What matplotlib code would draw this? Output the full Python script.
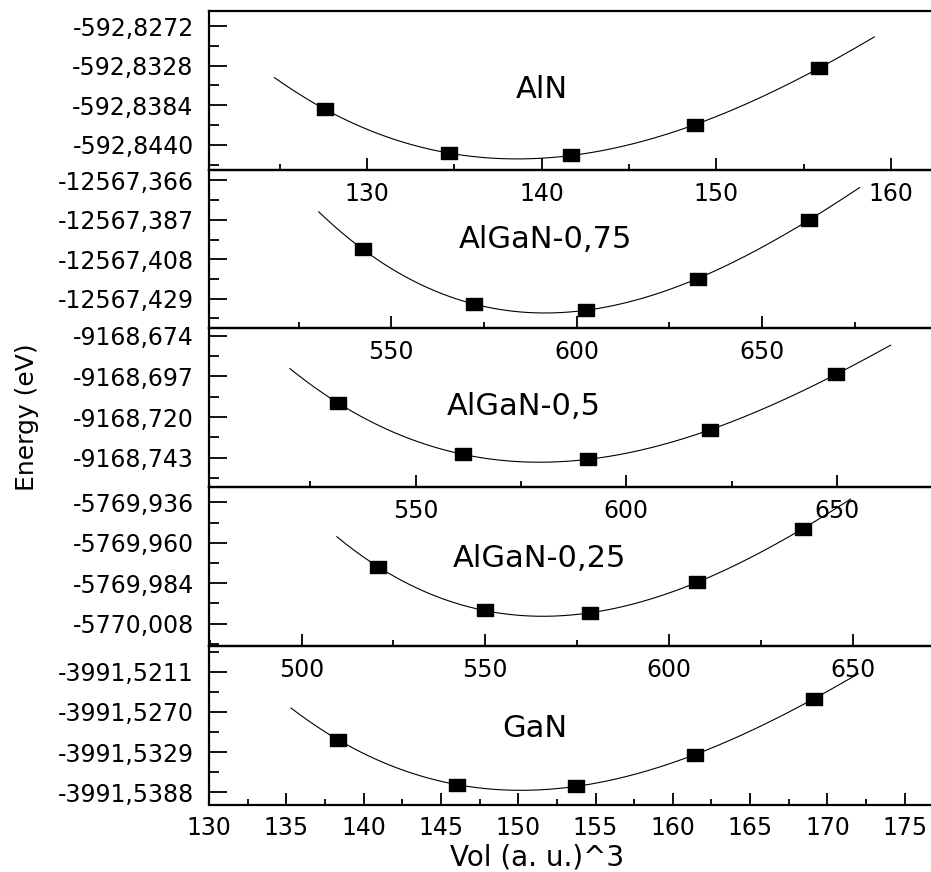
import numpy as np
import matplotlib
matplotlib.use('Agg')
import matplotlib.pyplot as plt
from matplotlib.path import Path
from matplotlib.ticker import FixedLocator, MultipleLocator, AutoMinorLocator, FuncFormatter

# Total energy vs cell volume for the AlGaN series (top to bottom)
names = ['AlN', 'AlGaN-0,75', 'AlGaN-0,5', 'AlGaN-0,25', 'GaN']

vol_aln = [127.6, 134.7, 141.7, 148.8, 155.9]
e_aln = [-592.83896, -592.84517, -592.84545, -592.84113, -592.83313]

vol_075 = [542.3, 572.4, 602.5, 632.7, 662.7]
e_075 = [-12567.4027, -12567.4320, -12567.4350, -12567.4183, -12567.3871]

vol_05 = [531.7, 561.2, 590.9, 619.8, 649.8]
e_05 = [-9168.7122, -9168.7411, -9168.7439, -9168.7273, -9168.6958]

vol_025 = [520.9, 549.8, 578.6, 607.5, 636.4]
e_025 = [-5769.9744, -5770.0000, -5770.0018, -5769.9834, -5769.9517]

vol_gan = [138.36, 146.06, 153.74, 161.42, 169.10]
e_gan = [-3991.5311, -3991.5377, -3991.5379, -3991.5333, -3991.5251]

# volume range covered by each fitted curve
fit_range = [(124.7, 159.05), (530.4, 676.3), (520.2, 662.7), (509.6, 649.4), (135.3, 172.0)]

# y tick values and axis limits of each panel
yticks = [
    [-592.8272, -592.8328, -592.8384, -592.8440],
    [-12567.366, -12567.387, -12567.408, -12567.429],
    [-9168.674, -9168.697, -9168.720, -9168.743],
    [-5769.936, -5769.960, -5769.984, -5770.008],
    [-3991.5211, -3991.5270, -3991.5329, -3991.5388],
]
ydec = [4, 3, 3, 3, 4]
ylims = [
    (-592.84749, -592.82508),
    (-12567.4448, -12567.36036),
    (-9168.75963, -9168.66987),
    (-5770.02111, -5769.92699),
    (-3991.54059, -3991.51730),
]
xlims = [(120.95, 162.3), (500.8, 695.6), (501.0, 672.3), (474.8, 671.3), (130.0, 176.7)]
xstep = [10, 50, 50, 50, 5]

vols = [vol_aln, vol_075, vol_05, vol_025, vol_gan]
energies = [e_aln, e_075, e_05, e_025, e_gan]
label_pos = [(0.4607, 0.5085), (0.4665, 0.560), (0.436, 0.511), (0.457, 0.547), (0.4507, 0.482)]

# wide rectangular marker
box = Path([(-1, -0.69), (1, -0.69), (1, 0.69), (-1, 0.69), (-1, -0.69)],
           [Path.MOVETO, Path.LINETO, Path.LINETO, Path.LINETO, Path.CLOSEPOLY])

W, H = 931, 872
fig = plt.figure(figsize=(W / 100, H / 100), dpi=100)

left = 209 / W
width = 1 - left
top_px, bot_px = 11, 804.5
ph = (bot_px - top_px) / 5

for i in range(5):
    bottom = 1 - (top_px + (i + 1) * ph) / H
    ax = fig.add_axes([left, bottom, width, ph / H])
    ax.set_facecolor('none')

    v = np.array(vols[i])
    e = np.array(energies[i])
    # cubic fit of E(V)
    coef = np.polyfit(v - v.mean(), e - e.mean(), 3)
    vv = np.linspace(fit_range[i][0], fit_range[i][1], 300)
    ax.plot(vv, np.polyval(coef, vv - v.mean()) + e.mean(), color='black', lw=0.8)
    ax.plot(v, e, linestyle='none', marker=box, markersize=11.5, color='black')

    ax.set_xlim(*xlims[i])
    ax.set_ylim(*ylims[i])
    ax.xaxis.set_major_locator(MultipleLocator(xstep[i]))
    ax.xaxis.set_minor_locator(AutoMinorLocator(2))
    ax.yaxis.set_major_locator(FixedLocator(yticks[i]))
    ax.yaxis.set_minor_locator(AutoMinorLocator(2))
    ax.yaxis.set_major_formatter(FuncFormatter(
        lambda val, pos, d=ydec[i]: f'{val:.{d}f}'.replace('.', ',')))

    ax.tick_params(axis='x', which='major', direction='in', length=9, width=1.3,
                   labelsize=17, pad=8.5)
    ax.tick_params(axis='x', which='minor', direction='in', length=4.5, width=1.3)
    ax.tick_params(axis='y', which='major', direction='in', length=13, width=1.3,
                   labelsize=17, pad=11)
    ax.tick_params(axis='y', which='minor', direction='in', length=7, width=1.3)

    ax.spines['right'].set_visible(False)
    for s in ['left', 'top', 'bottom']:
        ax.spines[s].set_linewidth(1.6)

    ax.text(label_pos[i][0], label_pos[i][1], names[i], transform=ax.transAxes,
            ha='center', va='center', fontsize=22)

fig.text(27 / W, 1 - 416.7 / H, 'Energy (eV)', rotation=90, ha='center', va='center',
         fontsize=18)
fig.text(537 / W, 1 - 857.7 / H, 'Vol (a. u.)^3', ha='center', va='center', fontsize=20)

fig.savefig('out.png', dpi=100)
